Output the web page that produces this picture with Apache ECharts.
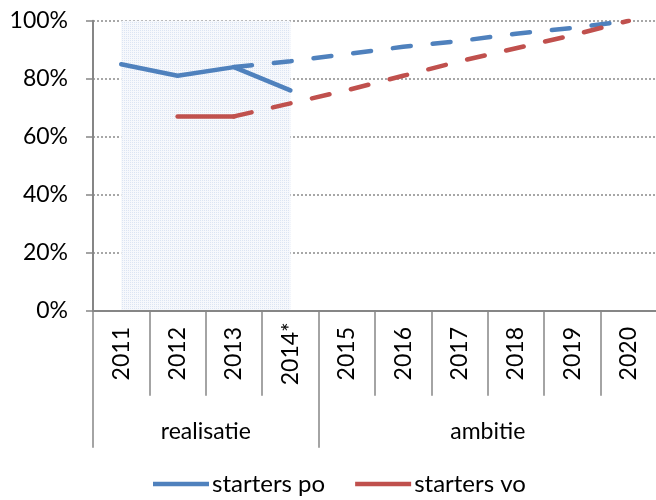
<!DOCTYPE html>
<html>
<head>
<meta charset="utf-8">
<script src="https://cdn.jsdelivr.net/npm/echarts@6/dist/echarts.min.js"></script>
<style>
  html, body { margin: 0; padding: 0; background: #fff; }
  #chart { width: 656px; height: 500px; }
</style>
</head>
<body>
<div id="chart"></div>
<script>
const years = ['2011', '2012', '2013', '2014*', '2015', '2016', '2017', '2018', '2019', '2020']
const groups = ['realisatie', 'ambitie']
const groupBounds = [0, 4, 10]
const groupCenters = [2, 7]

const poActual = [85, 81, 84, 76, null, null, null, null, null, null]
const poTarget = [null, null, 84, 86, 88.5, 91, 93, 95.5, 97.5, 100]
const voActual = [null, 67, 67, null, null, null, null, null, null, null]
const voTarget = [null, null, 67, 71.5, 76, 81, 86, 90.5, 95, 100]

const blue = '#4f81bd'
const red = '#c0504d'
const axisGray = '#868686'
const font = 'Lato, "Open Sans", sans-serif'

// dotted fill for the "realisatie" band
function dotPattern() {
  const c = document.createElement('canvas')
  c.width = 2
  c.height = 2
  const ctx = c.getContext('2d')
  ctx.fillStyle = '#f6f8fc'
  ctx.fillRect(0, 0, 2, 2)
  ctx.fillStyle = '#dbe4f3'
  ctx.fillRect(0, 0, 1, 1)
  return c
}

const chart = echarts.init(document.getElementById('chart'))

function lineSeries(name, data, color, dashed, extra) {
  return Object.assign({
    name: name,
    type: 'line',
    data: data,
    xAxisIndex: 0,
    yAxisIndex: 0,
    symbol: 'none',
    connectNulls: false,
    lineStyle: {
      color: color,
      width: 4.5,
      cap: 'round',
      join: 'round',
      type: dashed ? [18, 22] : 'solid',
    },
    itemStyle: { color: color },
    emphasis: { disabled: true },
    z: 3,
  }, extra || {})
}

chart.setOption({
  animation: false,
  grid: {
    left: 93,
    right: -1,
    top: 20.7,
    bottom: 189.3,
    outerBoundsMode: 'none',
  },
  legend: {
    data: ['starters po', 'starters vo'],
    top: 467,
    left: 148,
    padding: 5,
    itemWidth: 56,
    itemHeight: 4.5,
    itemGap: 30,
    icon: 'rect',
    textStyle: { fontFamily: font, fontSize: 24, color: '#000', padding: [0, 0, 0, -2] },
  },
  xAxis: [
    {
      type: 'category',
      data: years,
      boundaryGap: true,
      axisLine: { lineStyle: { color: axisGray, width: 2 } },
      axisTick: { show: true, length: 85, alignWithLabel: false, lineStyle: { color: axisGray, width: 1.5 } },
      axisLabel: {
        rotate: 90,
        align: 'center',
        verticalAlign: 'middle',
        margin: 43,
        interval: 0,
        fontFamily: font,
        fontSize: 23,
        color: '#000',
      },
      splitLine: { show: false },
    },
    {
      type: 'value',
      min: 0,
      max: 10,
      position: 'bottom',
      offset: 85,
      axisLine: { show: false },
      axisTick: {
        show: true,
        length: 52,
        customValues: groupBounds,
        lineStyle: { color: axisGray, width: 1.5 },
      },
      axisLabel: {
        customValues: groupCenters,
        formatter: (v) => groups[groupCenters.indexOf(v)] || '',
        margin: 36,
        verticalAlign: 'middle',
        fontFamily: font,
        fontSize: 23,
        color: '#000',
      },
      splitLine: { show: false },
    },
  ],
  yAxis: {
    type: 'value',
    min: 0,
    max: 100,
    interval: 20,
    axisLine: { show: true, lineStyle: { color: axisGray, width: 2 } },
    axisTick: { show: true, length: 7, lineStyle: { color: axisGray, width: 1.5 } },
    axisLabel: {
      formatter: '{value}%',
      margin: 25,
      fontFamily: font,
      fontSize: 23,
      color: '#000',
    },
    splitLine: { lineStyle: { color: '#8a8a8a', width: 1.5, type: [2, 2] } },
  },
  series: [
    lineSeries('starters po', poActual, blue, false, {
      markArea: {
        silent: true,
        itemStyle: { color: { image: dotPattern(), repeat: 'repeat' } },
        data: [[{ xAxis: years[0], yAxis: 0 }, { xAxis: years[3], yAxis: 100 }]],
        z: 0,
      },
    }),
    lineSeries('starters po ambitie', poTarget, blue, true),
    lineSeries('starters vo', voActual, red, false),
    lineSeries('starters vo ambitie', voTarget, red, true),
  ],
})
</script>
</body>
</html>
